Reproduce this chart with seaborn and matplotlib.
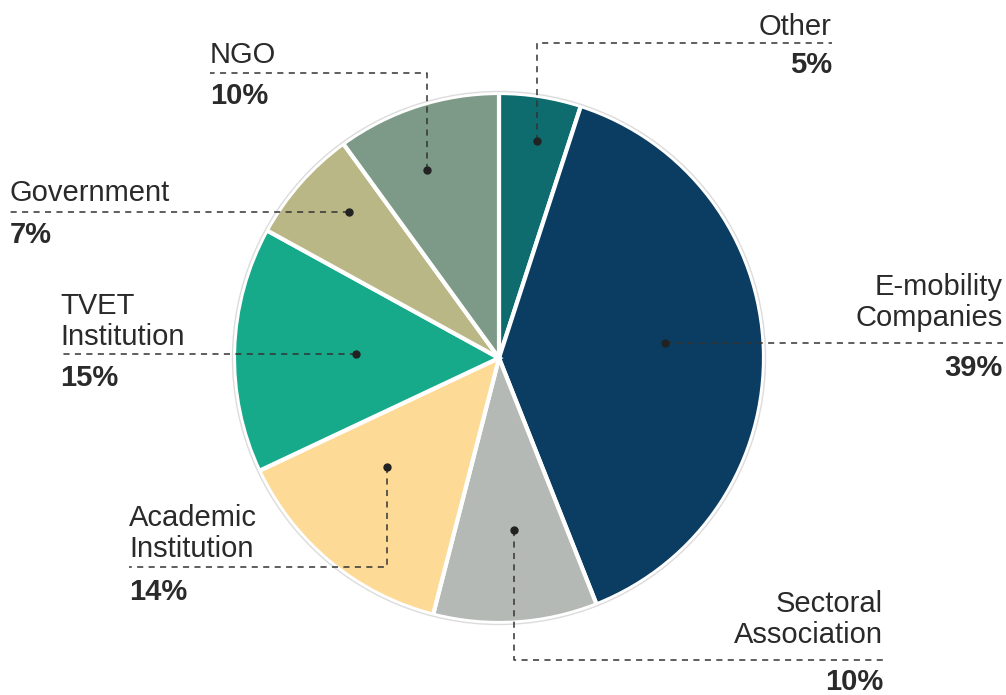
import numpy as np
import matplotlib
matplotlib.use("Agg")
import matplotlib.pyplot as plt
import seaborn as sns

# ---- data ----
categories = ["Other", "E-mobility\nCompanies", "Sectoral\nAssociation", "Academic\nInstitution",
              "TVET\nInstitution", "Government", "NGO"]
values = [5, 39, 10, 14, 15, 7, 10]
pct_labels = ["5%", "39%", "10%", "14%", "15%", "7%", "10%"]
colors = ["#0e6c6e", "#0a3d61", "#b5b9b5", "#fddb97", "#16aa8b", "#b8b785", "#7c9a87"]

# ---- layout (pixel space) ----
W, H = 1006, 695
CX, CY, R = 499, 358, 265
# dot placement inside wedge: (angle offset from wedge middle in deg, radius fraction)
dot_polar = [(-1, 0.83), (3.4, 0.63), (1.5, 0.65), (-6, 0.59), (0.2, 0.54), (-3, 0.79), (3, 0.76)]
# leader: kind, elbow y (for elbow kind), text end x
leaders = [("elbow", 43, 832), ("h", None, 1003), ("elbow", 660, 883), ("elbow", 567, 129),
           ("h", None, 60), ("h", None, 10), ("elbow", 73, 210)]
name_gap = [8, 17, 17, 10, 9, 11, 10]
pct_gap = [8, 11, 8, 11, 10, 9, 9]

sns.set_theme(style="white")
plt.rcParams["font.family"] = ["Liberation Sans", "DejaVu Sans"]
palette = sns.color_palette(colors)

fig = plt.figure(figsize=(W / 100, H / 100), dpi=100)
ax = fig.add_axes([0, 0, 1, 1])

def Y(py):
    return H - py

wedges, _ = ax.pie(values, colors=palette, startangle=90, counterclock=False,
                   center=(CX, Y(CY)), radius=R,
                   wedgeprops=dict(edgecolor="white", linewidth=3))
ax.add_patch(plt.Circle((CX, Y(CY)), R + 1.5, fill=False, edgecolor="#dcdcdc", linewidth=1))

ax.set_xlim(0, W)
ax.set_ylim(0, H)
ax.set_aspect("equal")
ax.axis("off")

txt_color = "#2a2a2a"
for i, w in enumerate(wedges):
    mid = 0.5 * (w.theta1 + w.theta2) + dot_polar[i][0]
    r = R * dot_polar[i][1]
    dx = CX + r * np.cos(np.radians(mid))
    dy = CY - r * np.sin(np.radians(mid))
    kind, ey, ex = leaders[i]
    if kind == "h":
        xs, ys = [dx, ex], [dy, dy]
        ly = dy
    else:
        xs, ys = [dx, dx, ex], [dy, ey, ey]
        ly = ey
    ax.plot(xs, [Y(v) for v in ys], color="#333333", lw=1.1, ls=(0, (4, 3.5)), zorder=5)
    ax.plot([dx], [Y(dy)], "o", color="#222222", ms=5, zorder=6)
    ha = "right" if ex > dx else "left"
    ax.text(ex, Y(ly - name_gap[i]), categories[i], ha=ha, va="baseline",
            fontsize=21, color=txt_color, linespacing=1.15)
    ax.text(ex, Y(ly + pct_gap[i]), pct_labels[i], ha=ha, va="top",
            fontsize=21, fontweight="bold", color=txt_color)

fig.savefig("out.png", dpi=100, facecolor="white")
